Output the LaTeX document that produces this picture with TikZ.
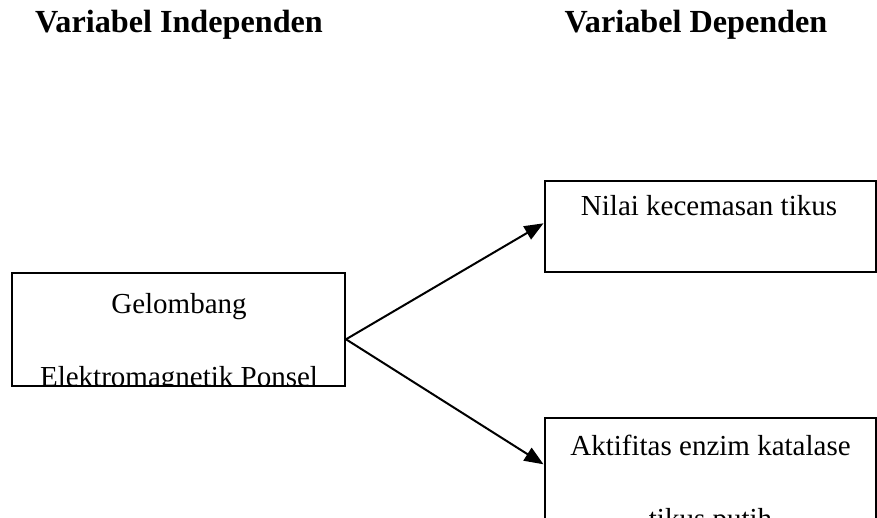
\documentclass[tikz,border=0pt]{standalone}
\usepackage{fontspec}
\setmainfont{Liberation Serif}
\usetikzlibrary{arrows.meta}
\begin{document}
\begin{tikzpicture}[x=0.5pt,y=-0.5pt,
  box/.style={draw=black,line width=1pt,fill=none,inner sep=0pt},
  lbl/.style={anchor=base,inner sep=0pt,font=\fontsize{14.5pt}{17pt}\selectfont},
  head/.style={anchor=base,inner sep=0pt,font=\fontsize{16.1pt}{19pt}\selectfont\bfseries},
  conn/.style={line width=1pt,-{Triangle[length=9.5pt,width=7.5pt]}}]
\useasboundingbox (0,0) rectangle (877,518);
\clip (0,0) rectangle (877,518);
% headers
\node[head] (hi) at (179,33) {Variabel Independen};
\node[head] (hd) at (696,33) {Variabel Dependen};
% left box text (clipped by box interior)
\begin{scope}
\clip (12,273) rectangle (345,385.5);
\node[lbl] (t1) at (179,313) {Gelombang};
\node[lbl] (t2) at (179,386.7) {Elektromagnetik Ponsel};
\end{scope}
\node[box,minimum width=166.5pt,minimum height=56.5pt] (src) at (178.5,329.5) {};
% top right
\node[lbl] (t3) at (709,215) {Nilai kecemasan tikus};
\node[box,minimum width=165.6pt,minimum height=45.5pt] (dv1) at (710.1,226.5) {};
% bottom right
\node[lbl] (t4) at (710.5,455) {Aktifitas enzim katalase};
\node[lbl] (t5) at (710.5,528) {tikus putih};
\node[box,minimum width=165.6pt,minimum height=71pt] (dv2) at (710.1,489) {};
% connectors
\draw[conn] ([yshift=-4.9pt]src.east) -- ([yshift=1.6pt]dv1.west);
\draw[conn] ([yshift=-4.9pt]src.east) -- ([yshift=12.35pt]dv2.west);
\end{tikzpicture}
\end{document}
